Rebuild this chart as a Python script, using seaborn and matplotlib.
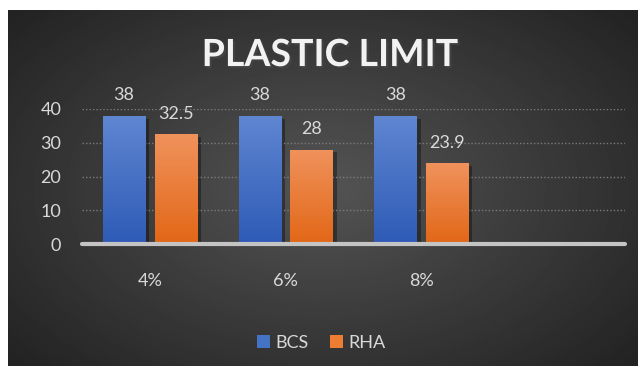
import numpy as np
import pandas as pd
import matplotlib
matplotlib.use('Agg')
import matplotlib.pyplot as plt
import matplotlib.patheffects as pe
from matplotlib.patches import Patch
import seaborn as sns

# data
categories = ['4%', '6%', '8%']
bcs_values = [38, 38, 38]
rha_values = [32.5, 28, 23.9]
series_names = ['BCS', 'RHA']
y_ticks = [0, 10, 20, 30, 40]

BLUE = '#4472C4'
ORANGE = '#ED7D31'
TXT = '#d9d9d9'

sns.set_theme(style='dark')
plt.rcParams['font.family'] = ['Lato', 'DejaVu Sans']

df = pd.DataFrame({
    'cat': categories * 2,
    'series': [series_names[0]] * 3 + [series_names[1]] * 3,
    'value': bcs_values + rha_values,
})

fig = plt.figure(figsize=(6.43, 3.72), dpi=100)
fig.patch.set_facecolor('white')

# radial dark background (chart area)
bg = fig.add_axes([8 / 643, 6 / 372, 630 / 643, 356 / 372], zorder=-5)
yy, xx = np.mgrid[-1:1:300j, -1:1:500j]
r = np.sqrt(xx ** 2 + (yy * 0.9) ** 2)
shade = 0.33 - 0.19 * np.clip(r / 1.3, 0, 1)
bg.imshow(shade, cmap='gray', vmin=0, vmax=1, aspect='auto', extent=[0, 1, 0, 1])
bg.set_axis_off()

ax = fig.add_axes([82 / 643, 0.344, 543 / 643, 0.363])
ax.patch.set_alpha(0)

sns.barplot(data=df, x='cat', y='value', hue='series', palette=[BLUE, ORANGE],
            width=0.76, gap=0.18, ax=ax, legend=False, saturation=1,
            edgecolor='none', linewidth=0)

grads = {BLUE: ('#2e5bb6', '#5f86d1'), ORANGE: ('#e26717', '#f0925c')}
bar_patches = list(ax.patches)
for i, p in enumerate(bar_patches):
    col = BLUE if i < len(categories) else ORANGE
    lo, hi = grads[col]
    cmap = matplotlib.colors.LinearSegmentedColormap.from_list('g', [lo, hi])
    x0, y0 = p.get_x(), p.get_y()
    w, h = p.get_width(), p.get_height()
    im = ax.imshow(np.linspace(1, 0, 100).reshape(-1, 1), cmap=cmap, aspect='auto',
                   extent=[x0, x0 + w, y0, y0 + h], zorder=3, vmin=0, vmax=1)
    im.set_clip_path(p)
    p.set_path_effects([pe.SimplePatchShadow(offset=(3, -2), shadow_rgbFace='black', alpha=0.35),
                        pe.Normal()])

for cont in ax.containers:
    ax.bar_label(cont, labels=[f'{v:g}' for v in cont.datavalues], padding=9,
                 fontsize=13, color=TXT, zorder=5)

ax.set_xlim(-0.5, 3.5)
ax.set_ylim(0, 40)
ax.set_yticks(y_ticks)
ax.set_xlabel('')
ax.set_ylabel('')
for y in y_ticks[1:]:
    ax.axhline(y, color='#7c7c7c', lw=1, ls=(0, (1, 1.5)), zorder=1)
ax.axhline(0, color='#c4c4c4', lw=3, zorder=6, clip_on=False)

ax.tick_params(axis='y', colors=TXT, labelsize=13, length=0, pad=15)
ax.tick_params(axis='x', colors=TXT, labelsize=13, length=0, pad=21)
ax.grid(False)
for s in ax.spines.values():
    s.set_visible(False)

fig.text(0.513, 0.852, 'PLASTIC LIMIT', ha='center', va='center', fontsize=27,
         fontweight='bold', color='#f2f2f2',
         path_effects=[pe.withSimplePatchShadow(offset=(1.5, -1.5), alpha=0.6)])

handles = [Patch(facecolor=BLUE, edgecolor='none', label=series_names[0]),
           Patch(facecolor=ORANGE, edgecolor='none', label=series_names[1])]
fig.legend(handles=handles, loc='center', bbox_to_anchor=(0.5, 0.078), ncol=2,
           frameon=False, fontsize=13, labelcolor=TXT, handlelength=0.7,
           handleheight=0.7, handletextpad=0.3, columnspacing=1.2)

fig.savefig('out.png', dpi=100)
